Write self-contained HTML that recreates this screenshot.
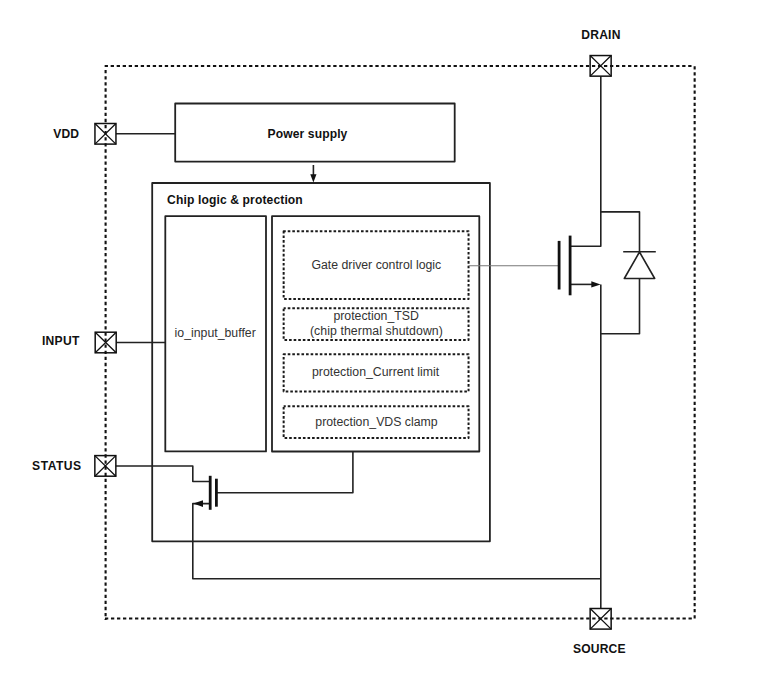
<!DOCTYPE html>
<html><head><meta charset="utf-8">
<style>
html,body{margin:0;padding:0;background:#fff;width:761px;height:679px;overflow:hidden}
svg{display:block}
text{font-family:"Liberation Sans",sans-serif}
.b{font-weight:bold;font-size:12.1px;fill:#111}
.r{font-size:12.3px;fill:#333}
</style></head><body>
<svg width="761" height="679" viewBox="0 0 761 679">
<g fill="none" stroke="#222" stroke-linecap="butt" stroke-linejoin="round">
<!-- outer dashed border -->
<g stroke-width="2.1" stroke="#111">
<path d="M104.65 66H692.5" stroke-dasharray="3.3 2.716"/>
<path d="M104.95 618.5H692.5" stroke-dasharray="3.3 2.716"/>
<path d="M105.6 70.05V620" stroke-dasharray="3.3 2.8"/>
<path d="M694.65 66.15V619.5" stroke-dasharray="3.3 2.8"/>
</g>
<!-- power supply -->
<rect x="175.2" y="103.5" width="279.5" height="58.1" stroke-width="1.8"/>
<!-- chip logic -->
<rect x="152.2" y="183" width="337.7" height="358.3" stroke-width="1.8"/>
<!-- io input buffer -->
<rect x="165.3" y="216.2" width="100.7" height="235.2" stroke-width="1.8"/>
<!-- right inner -->
<rect x="272" y="216.2" width="207.3" height="235.3" stroke-width="1.8"/>
<!-- dashed inner boxes -->
<g stroke-width="2" stroke-dasharray="2.6 1.98" stroke-dashoffset="0.5" stroke="#1a1a1a">
<rect x="283.65" y="231.2" width="184.9" height="67.9"/>
<rect x="283.65" y="308.3" width="184.9" height="31.6"/>
<rect x="283.65" y="354.2" width="184.9" height="37.4"/>
<rect x="283.65" y="406.3" width="184.9" height="31.7"/>
</g>
<!-- wires -->
<g stroke-width="1.6">
<path d="M116 133.8H175.2"/>
<path d="M313.4 165V175"/>
<path d="M116.3 342.5H165.3"/>
<path d="M115.8 466H192.8V481.5H210.2"/>
<path d="M216.4 492.8H352.9V451.5"/>
<path d="M210.2 503.6H192.8V578.7H600.8"/>
<path d="M600.8 76.2V246.2H570"/>
<path d="M570 284.4H592"/>
<path d="M600.8 284.4V608.5"/>
<path d="M600.8 211.9H639.5V251.7"/>
<path d="M623.2 251.7H655.8"/>
<path d="M639.5 252L624.3 278.5H654.7Z"/>
<path d="M639.5 278.5V333.75H600.8"/>
</g>
<path d="M468.6 265.7H559" stroke-width="1.1" stroke="#777"/>
<!-- transistor bars -->
<g stroke-width="2.8" stroke="#111">
<path d="M210.2 475.8V509.8"/>
<path d="M216.4 478.7V506.7"/>
<path d="M559.1 240.9V289.5"/>
<path d="M570.1 235.6V295.3"/>
</g>
</g>
<!-- arrowheads -->
<g fill="#111" stroke="none">
<path d="M313.4 182.4L310.3 174.2H316.5Z"/>
<path d="M193.3 503.6L203 500.3V506.9Z"/>
<path d="M600.6 284.4L591.3 281.2V287.6Z"/>
</g>
<!-- pads -->
<g fill="none" stroke="#111">
<rect x="94.95" y="123.5" width="21" height="20.6" stroke-width="1.5"/>
<path d="M94.95 123.5L115.95 144.1M115.95 123.5L94.95 144.1" stroke-width="1.3"/>
<rect x="95.2" y="332.2" width="21" height="20.6" stroke-width="1.5"/>
<path d="M95.2 332.2L116.2 352.8M116.2 332.2L95.2 352.8" stroke-width="1.3"/>
<rect x="94.85" y="455.6" width="21" height="20.6" stroke-width="1.5"/>
<path d="M94.85 455.6L115.85 476.2M115.85 455.6L94.85 476.2" stroke-width="1.3"/>
<rect x="590.15" y="55.55" width="21" height="20.6" stroke-width="1.5"/>
<path d="M590.15 55.55L611.15 76.15M611.15 55.55L590.15 76.15" stroke-width="1.3"/>
<rect x="590.15" y="608.5" width="21" height="20.6" stroke-width="1.5"/>
<path d="M590.15 608.5L611.15 629.1M611.15 608.5L590.15 629.1" stroke-width="1.3"/>
</g>
<!-- labels -->
<text class="b" x="53.3" y="138.2" letter-spacing="0.1">VDD</text>
<text class="b" x="42" y="345.3" letter-spacing="0.25">INPUT</text>
<text class="b" x="32.1" y="470.2" letter-spacing="0.5">STATUS</text>
<text class="b" x="581.3" y="38.8" letter-spacing="0.2">DRAIN</text>
<text class="b" x="573" y="652.6" letter-spacing="0.15">SOURCE</text>
<text class="b" x="267.6" y="138.2" letter-spacing="0.1">Power supply</text>
<text class="b" x="167.1" y="204.3" letter-spacing="0.12">Chip logic &amp; protection</text>
<text class="r" x="174.6" y="337">io_input_buffer</text>
<text class="r" x="311.4" y="268.6">Gate driver control logic</text>
<text class="r" x="333.4" y="320.3">protection_TSD</text>
<text class="r" x="309.9" y="334.6" letter-spacing="0.08">(chip thermal shutdown)</text>
<text class="r" x="312" y="376.3">protection_Current limit</text>
<text class="r" x="315.3" y="425.5">protection_VDS clamp</text>
</svg>
</body></html>
